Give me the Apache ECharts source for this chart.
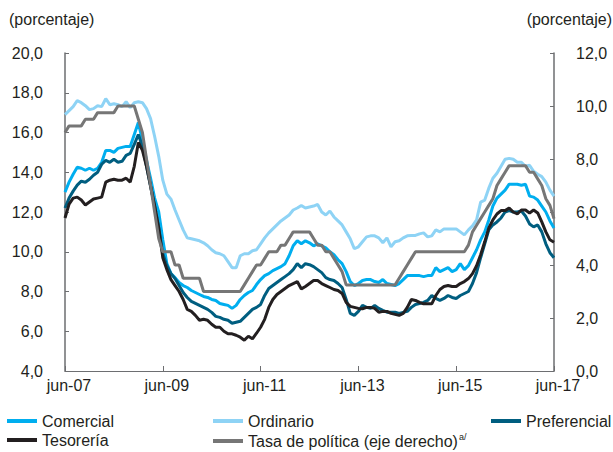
<!DOCTYPE html>
<html>
<head>
<meta charset="utf-8">
<script src="https://cdn.jsdelivr.net/npm/echarts@6/dist/echarts.min.js"></script>
<style>
html,body{margin:0;padding:0;background:#fff;}
#chart{width:613px;height:452px;}
</style>
</head>
<body>
<div id="chart"></div>
<script>
// Monthly observations, jun-07 .. jun-17
var monthNames = ['ene','feb','mar','abr','may','jun','jul','ago','sep','oct','nov','dic'];
var categories = [];
for (var y = 2007, mo = 5; categories.length < 121; ) {
  categories.push(monthNames[mo] + '-' + String(y).slice(2));
  mo++; if (mo === 12) { mo = 0; y++; }
}

var comercial = [
  13.0,13.5,13.9,14.25,14.2,14.1,14.2,14.1,14.2,14.5,
  15.1,15.1,15.0,15.2,15.25,15.3,15.3,15.9,16.5,15.6,
  14.6,13.7,12.7,12.0,10.6,9.4,8.9,8.7,8.45,8.3,
  8.2,8.05,7.95,7.85,7.75,7.7,7.6,7.55,7.4,7.35,
  7.3,7.15,7.3,7.6,7.8,7.95,8.05,8.35,8.6,8.8,
  8.9,9.05,9.15,9.25,9.4,9.8,10.3,10.55,10.4,10.55,
  10.45,10.3,10.4,10.3,10.2,10.0,9.85,9.6,9.4,9.0,
  8.5,8.3,8.4,8.55,8.6,8.6,8.5,8.45,8.6,8.4,
  8.35,8.3,8.4,8.6,8.8,8.8,8.8,8.8,8.75,8.8,
  8.8,9.2,9.0,9.1,9.2,9.0,9.1,9.4,9.1,9.3,
  9.7,10.1,10.6,11.0,11.6,12.3,12.7,12.9,13.1,13.4,
  13.4,13.4,13.35,13.4,12.8,12.75,12.6,12.3,12.0,11.55,
  11.2
];

var ordinario = [
  16.9,17.1,17.3,17.6,17.5,17.35,17.15,17.2,17.35,17.3,
  17.7,17.4,17.45,17.4,17.3,17.55,17.25,17.5,17.55,17.5,
  17.2,16.7,15.8,14.8,13.6,12.9,12.65,12.1,11.6,11.1,
  10.7,10.65,10.6,10.55,10.45,10.3,10.1,9.95,9.9,9.8,
  9.5,9.2,9.2,9.8,9.9,9.9,10.05,10.1,10.4,10.7,
  10.95,11.15,11.35,11.55,11.7,11.85,12.1,12.2,12.33,12.2,
  12.25,12.3,12.38,12.0,11.85,12.05,11.75,11.55,11.35,11.0,
  10.65,10.15,10.25,10.5,10.75,10.8,10.8,10.7,10.45,10.7,
  10.25,10.5,10.55,10.7,10.8,10.82,10.82,10.9,10.95,10.75,
  10.8,11.1,11.0,11.15,11.15,11.15,11.15,11.0,10.85,11.1,
  11.3,11.6,12.5,12.6,13.2,13.7,13.95,14.3,14.65,14.7,
  14.65,14.5,14.5,14.3,14.35,14.05,13.9,13.78,13.5,13.1,
  12.8
];

var preferencial = [
  12.2,12.7,13.05,13.35,13.55,13.5,13.65,13.85,14.0,14.4,
  14.6,14.5,14.65,14.5,14.55,14.85,14.95,15.4,15.9,15.3,
  14.3,13.3,12.3,11.2,9.9,9.3,8.9,8.65,8.3,7.95,
  7.7,7.5,7.4,7.3,7.2,7.1,6.95,6.75,6.7,6.6,
  6.55,6.4,6.45,6.5,6.7,6.9,7.1,7.2,7.35,7.8,
  8.15,8.3,8.45,8.6,8.75,8.9,9.1,9.4,9.2,9.4,
  9.35,9.25,9.1,8.95,8.7,8.6,8.55,8.4,8.2,7.6,
  6.9,6.8,7.0,7.3,7.2,7.15,7.3,7.15,7.05,6.96,
  6.95,6.96,6.9,6.95,7.0,7.2,7.35,7.4,7.45,7.55,
  7.8,7.65,7.55,7.65,7.8,7.7,7.65,7.8,7.9,8.0,
  8.4,8.95,9.7,10.4,11.1,11.35,11.5,11.7,12.0,12.07,
  12.0,12.0,12.05,11.8,11.4,11.25,11.35,11.0,10.4,9.95,
  9.7
];

var tesoreria = [
  11.7,12.4,12.7,12.75,12.6,12.35,12.5,12.65,12.7,12.75,
  13.5,13.6,13.65,13.6,13.6,13.7,13.5,14.3,15.5,15.1,
  14.3,13.3,12.3,11.2,9.7,9.1,8.6,8.3,8.0,7.6,
  7.1,7.0,6.8,6.55,6.6,6.55,6.35,6.2,6.2,6.0,
  5.87,5.87,5.8,5.7,5.55,5.75,5.62,5.9,6.2,6.6,
  7.2,7.6,7.85,8.0,8.15,8.3,8.4,8.5,8.13,8.25,
  8.4,8.55,8.55,8.4,8.3,8.2,8.1,8.05,7.9,7.45,
  7.25,7.2,7.15,7.13,7.2,7.2,7.15,6.96,7.0,7.0,
  6.9,6.85,6.8,6.9,7.2,7.6,7.55,7.45,7.38,7.38,
  7.38,7.8,8.1,8.25,8.3,8.25,8.25,8.4,8.5,8.65,
  8.9,9.3,9.85,10.5,11.2,11.6,11.9,12.07,12.07,12.2,
  12.0,11.9,12.1,12.1,11.95,12.1,11.95,11.5,11.0,10.6,
  10.48
];

var tasaPolitica = [
  9.0,9.25,9.25,9.25,9.25,9.5,9.5,9.5,9.75,9.75,
  9.75,9.75,9.75,10,10,10,10,10,9.5,9.0,
  8.0,7.0,6.0,5.0,4.5,4.5,4.5,4.0,4.0,3.5,
  3.5,3.5,3.5,3.5,3.0,3.0,3.0,3.0,3.0,3.0,
  3.0,3.0,3.0,3.0,3.25,3.5,3.75,4.0,4.0,4.25,
  4.5,4.5,4.5,4.75,4.75,5.0,5.25,5.25,5.25,5.25,
  5.25,5.0,4.75,4.75,4.5,4.5,4.25,4.0,3.75,3.25,
  3.25,3.25,3.25,3.25,3.25,3.25,3.25,3.25,3.25,3.25,
  3.25,3.25,3.5,3.75,4.0,4.25,4.5,4.5,4.5,4.5,
  4.5,4.5,4.5,4.5,4.5,4.5,4.5,4.5,4.5,4.75,
  5.25,5.5,5.75,6.0,6.25,6.5,7.0,7.25,7.5,7.75,
  7.75,7.75,7.75,7.75,7.5,7.5,7.25,7.0,6.5,6.25,
  5.75
];

var seriesNames = ['Comercial','Ordinario','Preferencial','Tesorería','Tasa de política (eje derecho)'];
var seriesColors = ['#00AEEF','#8ED3F5','#005E80','#231F20','#767676'];
var yLeftLabel = '(porcentaje)';
var yRightLabel = '(porcentaje)';

var FONT = '"Liberation Sans", Arial, Helvetica, sans-serif';
var TXT = '#231F20';
var AX = '#6D6E71';

function fmt(v){ return v.toFixed(1).replace('.', ','); }

function mkLegend(name, left, top){
  var l = {
    data: [name], left: left, top: top, orient: 'horizontal', padding: 0,
    icon: 'rect', itemWidth: 30, itemHeight: 4, selectedMode: false,
    textStyle: {fontFamily: FONT, fontSize: 16, color: TXT}
  };
  if (name.indexOf('Tasa') === 0) {
    l.formatter = function(n){ return '{n|' + n + '}{s|a/}'; };
    l.textStyle.rich = {
      n: {fontFamily: FONT, fontSize: 16, color: TXT},
      s: {fontFamily: FONT, fontSize: 9, color: TXT, padding: [0,0,9,1]}
    };
  }
  return l;
}

var chart = echarts.init(document.getElementById('chart'), null, {renderer: 'svg'});
var option = {
  animation: false,
  backgroundColor: '#fff',
  title: [
    {text: yLeftLabel, left: 9, top: 11, padding: 0, textStyle: {fontFamily: FONT, fontSize: 16, fontWeight: 'normal', color: TXT}},
    {text: yRightLabel, right: 1, top: 11, padding: 0, textStyle: {fontFamily: FONT, fontSize: 16, fontWeight: 'normal', color: TXT}}
  ],
  legend: [
    mkLegend(seriesNames[0], 7, 413),
    mkLegend(seriesNames[1], 213, 413),
    mkLegend(seriesNames[2], 491, 413),
    mkLegend(seriesNames[3], 7, 432),
    mkLegend(seriesNames[4], 213, 432)
  ],
  grid: {left: 65, right: 59, top: 53, bottom: 81, containLabel: false},
  xAxis: {
    type: 'category', data: categories, boundaryGap: false,
    axisLine: {show: true, lineStyle: {color: AX, width: 1}},
    axisTick: {show: true, inside: true, length: 5, interval: 23, lineStyle: {color: AX}},
    axisLabel: {interval: 23, margin: 6, fontFamily: FONT, fontSize: 16, color: TXT, padding: [0,0,0,8]},
    splitLine: {show: false}
  },
  yAxis: [
    {
      type: 'value', min: 4, max: 20, interval: 2, position: 'left',
      axisLine: {show: true, lineStyle: {color: AX, width: 1.5}},
      axisTick: {show: true, inside: true, length: 4, lineStyle: {color: AX}},
      axisLabel: {margin: 22, formatter: fmt, fontFamily: FONT, fontSize: 16, color: TXT},
      splitLine: {show: false}
    },
    {
      type: 'value', min: 0, max: 12, interval: 2, position: 'right',
      axisLine: {show: true, lineStyle: {color: AX, width: 1.5}},
      axisTick: {show: true, inside: true, length: 4, lineStyle: {color: AX}},
      axisLabel: {margin: 22, formatter: fmt, fontFamily: FONT, fontSize: 16, color: TXT},
      splitLine: {show: false}
    }
  ],
  series: [
    {name: seriesNames[1], type: 'line', data: ordinario, yAxisIndex: 0, showSymbol: false, symbol: 'none', lineStyle: {width: 3, color: seriesColors[1]}, itemStyle: {color: seriesColors[1]}, z: 2},
    {name: seriesNames[0], type: 'line', data: comercial, yAxisIndex: 0, showSymbol: false, symbol: 'none', lineStyle: {width: 3, color: seriesColors[0]}, itemStyle: {color: seriesColors[0]}, z: 3},
    {name: seriesNames[2], type: 'line', data: preferencial, yAxisIndex: 0, showSymbol: false, symbol: 'none', lineStyle: {width: 3, color: seriesColors[2]}, itemStyle: {color: seriesColors[2]}, z: 4},
    {name: seriesNames[3], type: 'line', data: tesoreria, yAxisIndex: 0, showSymbol: false, symbol: 'none', lineStyle: {width: 3, color: seriesColors[3]}, itemStyle: {color: seriesColors[3]}, z: 5},
    {name: seriesNames[4], type: 'line', data: tasaPolitica, yAxisIndex: 1, showSymbol: false, symbol: 'none', lineStyle: {width: 3, color: seriesColors[4]}, itemStyle: {color: seriesColors[4]}, z: 6}
  ]
};
chart.setOption(option);
</script>
</body>
</html>
